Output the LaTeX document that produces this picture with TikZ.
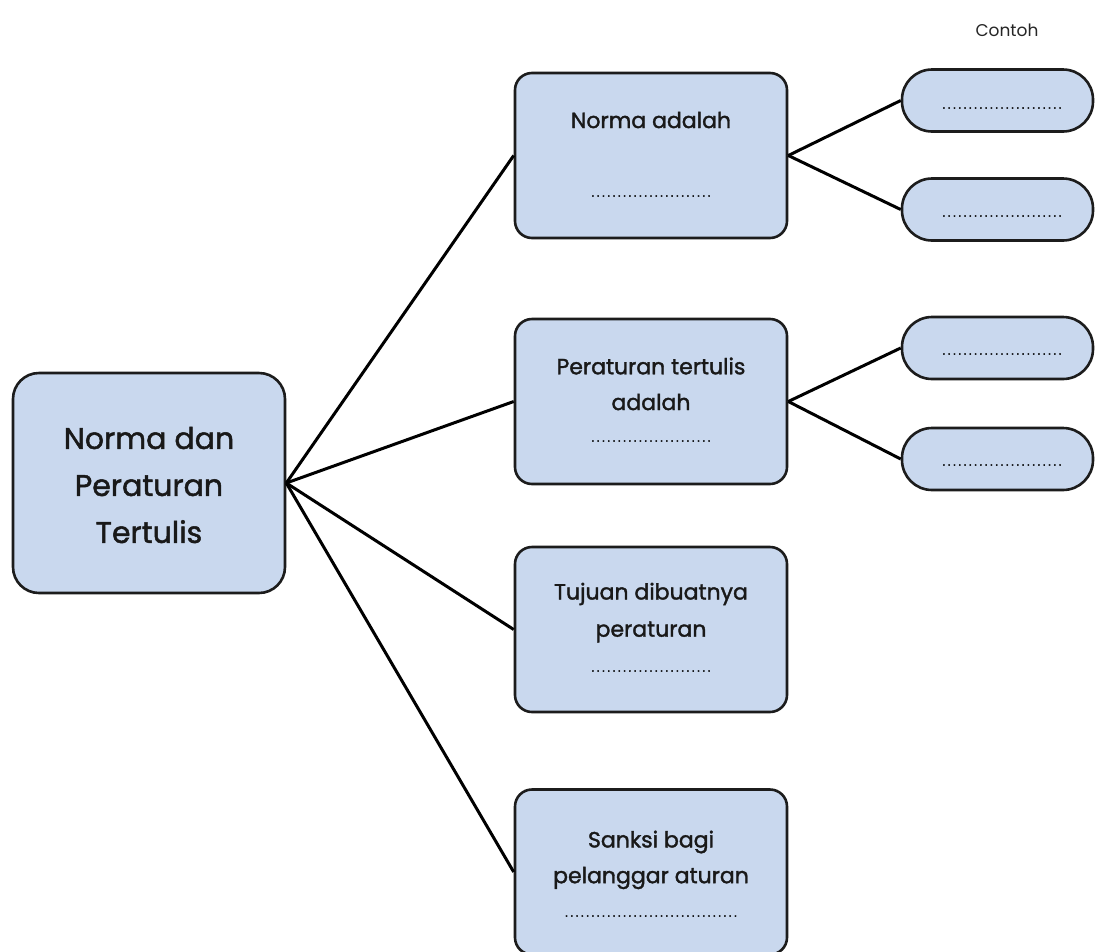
\documentclass[tikz,border=0pt]{standalone}
\usepackage{fontspec}
\setmainfont{Poppins}[BoldFont=Poppins, BoldFeatures={FakeBold=1.6}]
\definecolor{boxblue}{HTML}{C9D8EE}
\definecolor{edge}{HTML}{1C1C1C}
\begin{document}
\begin{tikzpicture}[x=1pt,y=-1pt,
  box/.style={draw=edge, line width=2.6pt, fill=boxblue, rounded corners=17pt,
    minimum width=272pt, minimum height=165pt, inner sep=0pt},
  mainbox/.style={draw=edge, line width=2.6pt, fill=boxblue, rounded corners=26pt,
    minimum width=272pt, minimum height=220pt, inner sep=0pt},
  pill/.style={draw=edge, line width=2.6pt, fill=boxblue, rounded corners=30pt,
    minimum width=191pt, minimum height=62pt, inner sep=0pt},
  conn/.style={draw=black, line width=3pt},
  txt/.style={inner sep=0pt, text=black!90, font=\fontsize{22}{26}\selectfont\bfseries},
  bigtxt/.style={inner sep=0pt, text=black!90, font=\fontsize{30}{47}\selectfont\bfseries, align=center},
  dots/.style={inner sep=0pt, text=black, font=\fontsize{12}{13}\selectfont\bfseries}
]
\useasboundingbox (0,0) rectangle (1095,951);
\fill[white] (0,0) rectangle (1095,951);

% main
\node[mainbox] (main) at (149,483) {};
\node[bigtxt] (maintxt) at (149,485) {Norma dan\\Peraturan\\Tertulis};

% boxes
\node[box] (b1) at (651,155.5) {};
\node[box] (b2) at (651,401.5) {};
\node[box] (b3) at (651,629.5) {};
\node[box] (b4) at (651,872) {};

% pills
\node[pill] (p1) at (997.5,100.5) {};
\node[pill] (p2) at (997.5,209.5) {};
\node[pill] (p3) at (997.5,348) {};
\node[pill] (p4) at (997.5,459) {};

% connectors
\draw[conn] (main.east) -- (b1.west);
\draw[conn] (main.east) -- (b2.west);
\draw[conn] (main.east) -- (b3.west);
\draw[conn] (main.east) -- (b4.west);
\draw[conn] (b1.east) -- (p1.west);
\draw[conn] (b1.east) -- (p2.west);
\draw[conn] (b2.east) -- (p3.west);
\draw[conn] (b2.east) -- (p4.west);

% box texts
\node[txt] (t1) at (651,120) {Norma adalah};
\node[dots] (d1) at (651,196) {\makebox[126pt]{\dotfill}};

\node[txt] (t2a) at (651,366) {Peraturan tertulis};
\node[txt] (t2b) at (651,402) {adalah};
\node[dots] (d2) at (651,441) {\makebox[126pt]{\dotfill}};

\node[txt] (t3a) at (651,594) {Tujuan dibuatnya};
\node[txt] (t3b) at (651,632) {peraturan};
\node[dots] (d3) at (651,671) {\makebox[126pt]{\dotfill}};

\node[txt] (t4a) at (651,842) {Sanksi bagi};
\node[txt] (t4b) at (651,878) {pelanggar aturan};
\node[dots] (d4) at (651,916) {\makebox[176pt]{\dotfill}};

% pill texts
\node[dots] (pd1) at (1002,108) {\makebox[125pt]{\dotfill}};
\node[dots] (pd2) at (1002,216) {\makebox[125pt]{\dotfill}};
\node[dots] (pd3) at (1002,354) {\makebox[125pt]{\dotfill}};
\node[dots] (pd4) at (1002,465) {\makebox[125pt]{\dotfill}};

% header
\node[inner sep=0pt, text=black!85, font=\fontsize{17}{19}\selectfont] (contoh) at (1007,30) {Contoh};
\end{tikzpicture}
\end{document}
